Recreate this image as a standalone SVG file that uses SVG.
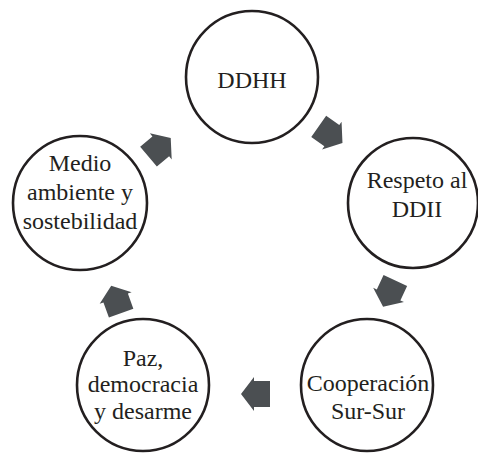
<svg xmlns="http://www.w3.org/2000/svg" width="478" height="461" viewBox="0 0 478 461">
<style>
.node circle{fill:#fff;stroke:#231f20;stroke-width:2.6}
.node text{font-family:'Liberation Serif','Times New Roman',Times,serif;font-size:24px;fill:#231f20;text-anchor:middle}
.arr{fill:#4b4f52}
</style>
<defs>
<path id="a" d="M14,0 L1,-17 L1,-13 L-15,-13 L-15,13 L1,13 L1,17 Z"/>
</defs>
<rect width="478" height="461" fill="#fff"/>
<g id="connectors">
<use href="#a" class="arr" transform="translate(160,147) rotate(-40)"/>
<use href="#a" class="arr" transform="translate(331,135) rotate(35)"/>
<use href="#a" class="arr" transform="translate(389,294) rotate(115)"/>
<use href="#a" class="arr" transform="translate(255,394) rotate(180)"/>
<use href="#a" class="arr" transform="translate(116,299) rotate(-110)"/>
</g>
<g id="ddhh" class="node"><circle cx="252" cy="77" r="66"/><text x="252" y="88">DDHH</text></g>
<g id="respeto" class="node"><circle cx="413" cy="203" r="65"/><text x="417" y="188">Respeto al</text><text x="417" y="217">DDII</text></g>
<g id="cooperacion" class="node"><circle cx="367" cy="385" r="66"/><text x="368" y="391">Cooperación</text><text x="368" y="419">Sur-Sur</text></g>
<g id="paz" class="node"><circle cx="143" cy="385" r="66"/><text x="143" y="366">Paz,</text><text x="143" y="392">democracia</text><text x="143" y="419">y desarme</text></g>
<g id="medio" class="node"><circle cx="80" cy="203" r="67"/><text x="80" y="171">Medio</text><text x="80" y="200">ambiente y</text><text x="80" y="229">sostebilidad</text></g>
</svg>
